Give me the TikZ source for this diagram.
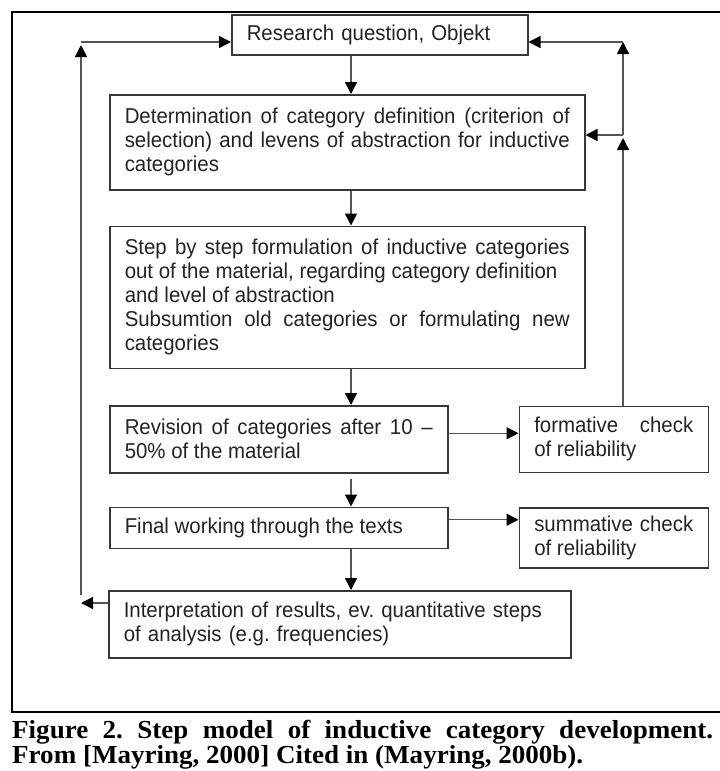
\documentclass[tikz,border=0pt]{standalone}
\usepackage{fontspec}
\setmainfont{Liberation Serif}
\newfontfamily\boxfont[Ligatures=TeX, FakeStretch=0.95]{Liberation Sans}
\newfontfamily\captionfont[FakeStretch=1.04]{Liberation Serif}
\usepackage{tikz}
\usetikzlibrary{positioning, arrows.meta}
\frenchspacing
\definecolor{frameColor}{RGB}{0, 0, 0}
\definecolor{boxLine}{RGB}{55, 55, 55}
\definecolor{arrowLine}{RGB}{85, 85, 85}
\definecolor{textColor}{RGB}{35, 35, 35}
\tikzset{
    step_box/.style={
        draw=boxLine,
        line width=1.5pt,
        fill=white,
        text=textColor,
        font=\boxfont\fontsize{21.5}{24}\selectfont,
        inner xsep=15pt,
        inner ysep=0pt,
        align=justify,
        anchor=north west
    },
    flow_edge/.style={
        ->,
        >={Triangle[length=12pt, width=12pt, color=black]},
        line width=1.4pt,
        draw=arrowLine
    },
    frame_line/.style={
        line width=2.5pt,
        draw=frameColor
    },
    caption_text/.style={
        anchor=north west,
        inner sep=0pt,
        text width=701pt,
        align=justify,
        font=\captionfont\bfseries\fontsize{26}{24.5}\selectfont
    }
}

\begin{document}
\begin{tikzpicture}[x=1pt, y=-1pt]
    \useasboundingbox (0,0) rectangle (720,771);
    \draw[frame_line] (722,12) -- (12,12) -- (12,712) -- (722,712);

    \node[step_box, align=left, text width=266pt, minimum height=40pt] (question) at (231,14)
        {Research question, Objekt};
    \node[step_box, text width=445pt, minimum height=95pt] (detbox) at (109,94)
        {Determination of category definition (criterion of\linebreak
         selection) and levens of abstraction for inductive\linebreak categories};
    \node[step_box, text width=445pt, minimum height=142pt, below=35pt of detbox] (stepsbox)
        {Step by step formulation of inductive categories\linebreak
         out of the material, regarding category definition\\
         and level of abstraction\\
         Subsumtion old categories or formulating new\linebreak categories};
    \node[step_box, text width=308pt, minimum height=67pt, below right=36pt and 0pt of stepsbox.south west] (revbox)
        {Revision of categories after 10 –\linebreak 50\% of the material};
    \node[step_box, text width=159pt, minimum height=66pt, anchor=west, right=70pt of revbox] (formbox)
        {formative check\linebreak of reliability};
    \node[step_box, text width=308pt, minimum height=41pt, below right=33pt and 0pt of revbox.south west] (finalbox)
        {Final working through the texts};
    \node[step_box, text width=159pt, minimum height=60pt, below right=34pt and 0pt of formbox.south west] (sumbox)
        {summative check\linebreak of reliability};
    \node[step_box, align=left, text width=432pt, minimum height=67pt, below right=41pt and -1pt of finalbox.south west] (interp)
        {Interpretation of results, ev. quantitative steps\\ of analysis (e.g. frequencies)};

    % main line down the middle
    \coordinate (spine) at (351,0);
    \draw[flow_edge] (question.south -| spine) -- (detbox.north -| spine);
    \draw[flow_edge] (detbox.south -| spine) -- (stepsbox.north -| spine);
    \draw[flow_edge] (stepsbox.south -| spine) -- (revbox.north -| spine);
    \draw[flow_edge, shorten <=5pt] (revbox.south -| spine) -- (finalbox.north -| spine);
    \draw[flow_edge] (finalbox.south -| spine) -- (interp.north -| spine);

    % checks
    \coordinate (form_in) at ([yshift=6pt]revbox.east);
    \coordinate (sum_in) at ([yshift=8pt]finalbox.east);
    \draw[flow_edge] (form_in) -- (form_in -| formbox.west);
    \draw[flow_edge] (sum_in) -- (sum_in -| sumbox.west);

    % feedback on the right
    \coordinate (rail_top) at (623,42);
    \coordinate (rail_mid) at (623,135);
    \draw[flow_edge] (formbox.north -| rail_mid) -- ([yshift=-3pt]rail_mid);
    \draw[flow_edge] (rail_mid) -- (rail_top);
    \draw[flow_edge] (rail_mid) -- (rail_mid -| detbox.east);
    \draw[flow_edge] (rail_top) -- (rail_top -| question.east);

    % feedback on the left
    \coordinate (lrail_top) at (81,42);
    \coordinate (lrail_bot) at (81,595);
    \coordinate (lrail_in) at (81,603);
    \draw[flow_edge] (interp.west |- lrail_in) -- (lrail_in);
    \draw[flow_edge] (lrail_bot) -- ([yshift=-3pt]lrail_top);
    \draw[flow_edge] (lrail_top) -- (lrail_top -| question.west);

    \node[caption_text] (caption) at (12,720)
        {Figure 2. Step model of inductive category development.\linebreak
         From [Mayring, 2000] Cited in (Mayring, 2000b).};
\end{tikzpicture}
\end{document}
